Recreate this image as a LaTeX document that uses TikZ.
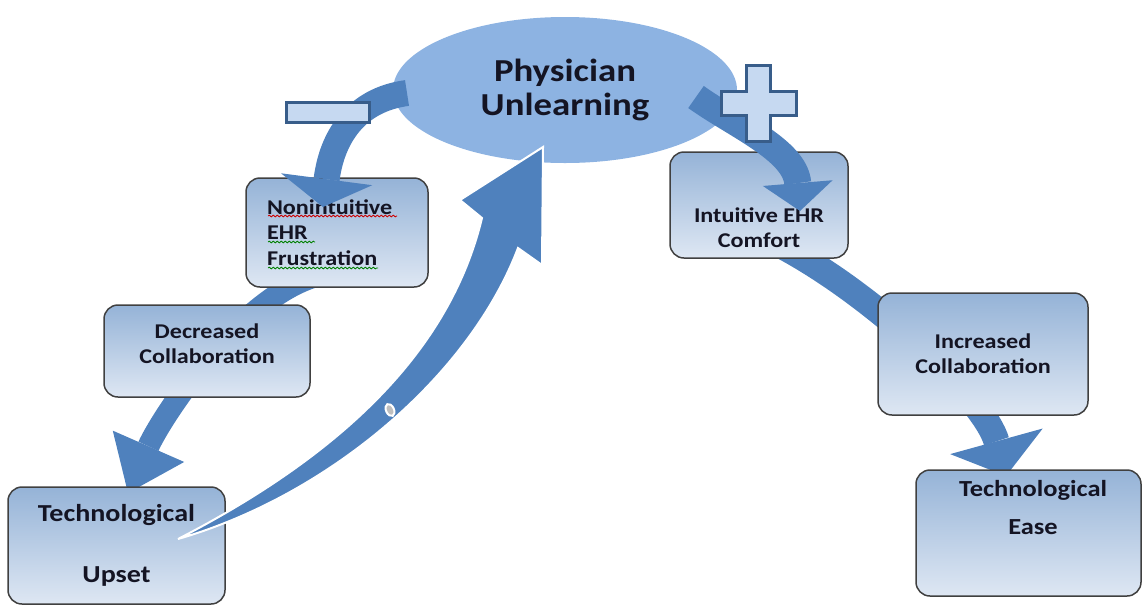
\documentclass[tikz,border=0pt]{standalone}
\usepackage{fontspec}
\setmainfont[FakeStretch=1.15]{Carlito}
\usetikzlibrary{arrows.meta,shapes.geometric,backgrounds,decorations.pathmorphing}
\definecolor{arrowblue}{RGB}{79,129,189}
\definecolor{ovalblue}{RGB}{141,179,226}
\definecolor{boxtop}{RGB}{149,179,215}
\definecolor{boxbot}{RGB}{222,231,243}
\definecolor{signfill}{RGB}{198,217,241}
\definecolor{signline}{RGB}{56,93,138}
\definecolor{inktext}{RGB}{20,20,35}
\tikzset{
  box/.style={draw=black!75, line width=0.75pt, rounded corners=7pt,
    top color=boxtop, bottom color=boxbot, text=inktext, align=center,
    inner sep=0pt, font=\bfseries\fontsize{10.5}{12.6}\selectfont},
  lbl/.style={text=inktext, align=center, inner sep=0pt,
    font=\bfseries\fontsize{10.5}{12.6}\selectfont},
  flow/.style={draw=arrowblue, line width=#1},
  sign/.style={fill=signfill, draw=signline, line width=1.5pt},
  wave/.style={decorate, decoration={snake, amplitude=0.45pt, segment length=2pt}, line width=0.4pt}
}
\begin{document}
\begin{tikzpicture}[x=0.5pt,y=-0.5pt]
\useasboundingbox (0,0) rectangle (1144,606);

% centre oval
\node[ellipse, fill=ovalblue, minimum width=172pt, minimum height=73pt, inner sep=0pt,
  align=center, text=inktext, font=\bfseries\fontsize{16}{17}\selectfont] (phys) at (565,90) {Physician\\Unlearning};

% left branch
\node[box, align=left, text width=70pt, inner xsep=10.5pt, minimum height=54.5pt] (nonint) at (337,232.5) {Nonintuitive\\EHR\\Frustration};
\node[box, minimum width=103pt, minimum height=46pt] (decr) at (207,351) {};
\node[lbl] (decrtxt) at (207,344) {Decreased\\Collaboration};
\node[box, minimum width=108.5pt, minimum height=58.5pt, font=\bfseries\fontsize{12.2}{14.8}\selectfont] (upset) at (116.5,545.5) {Technological\\[15.5pt]Upset};

% right branch
\node[box, minimum width=89pt, minimum height=53pt] (intu) at (759,205) {};
\node[lbl] (intutxt) at (759,227.5) {Intuitive EHR\\Comfort};
\node[box, minimum width=105pt, minimum height=61pt] (incr) at (983,354) {Increased\\Collaboration};
\node[box, minimum width=112.5pt, minimum height=63pt] (ease) at (1028.5,533) {};
\node[lbl, font=\bfseries\fontsize{11.5}{14}\selectfont] (easetxt) at (1033,507.5) {Technological\\[5pt]Ease};

% spelling marks
\draw[wave, red!80!black] (268,216) -- (397,216);
\draw[wave, green!50!black] (268,242) -- (315,242);
\draw[wave, green!50!black] (268,268) -- (378,268);

% connectors running behind the boxes
\coordinate (ltail) at (320,275);
\coordinate (ltip) at (128,493);
\coordinate (rtail) at (780,245);
\coordinate (rtip) at (1006,476);
\begin{pgfonlayer}{background}
\draw[flow=11pt, -{Triangle[width=39pt,length=25.5pt,line width=0pt]}] (ltail) .. controls (240,295) and (160,420) .. (ltip);
\draw[flow=13pt, -{Triangle[width=48pt,length=18pt,line width=0pt]}] (rtail) .. controls (875,295) and (985,400) .. (rtip);
\end{pgfonlayer}

% minus and plus arrows out of the oval
\coordinate (mtail) at (407,93);
\coordinate (mtip) at (323,207);
\coordinate (ptail) at (696,97);
\coordinate (ptip) at (800,211);
\draw[flow=13pt, -{Triangle[width=46pt,length=14pt,line width=0pt]}] (mtail) .. controls (355,100) and (332,138) .. (mtip);
\draw[flow=13.5pt, -{Triangle[width=35pt,length=14pt,line width=0pt]}] (ptail) .. controls (735,125) and (795,150) .. (ptip);

% big return arrow
\coordinate (btail) at (178,539);
\coordinate (btip) at (543,147);
\fill[arrowblue, draw=white, line width=1pt]
  (btail) .. controls (330,495) and (470,375) .. (518,248)
  -- (542,265) -- (btip) -- (460,200) -- (482,218)
  .. controls (455,330) and (370,440) .. (btail) -- cycle;
\draw[white, line width=1pt, fill=gray!50] (390,410) ellipse [x radius=2pt, y radius=3.2pt, rotate=25];

% signs
\draw[sign] (286,102) rectangle (369,122);
\draw[sign] (746,65) -- (770,65) -- (770,91) -- (796,91) -- (796,115) -- (770,115) -- (770,141)
  -- (746,141) -- (746,115) -- (721,115) -- (721,91) -- (746,91) -- cycle;
\end{tikzpicture}
\end{document}
